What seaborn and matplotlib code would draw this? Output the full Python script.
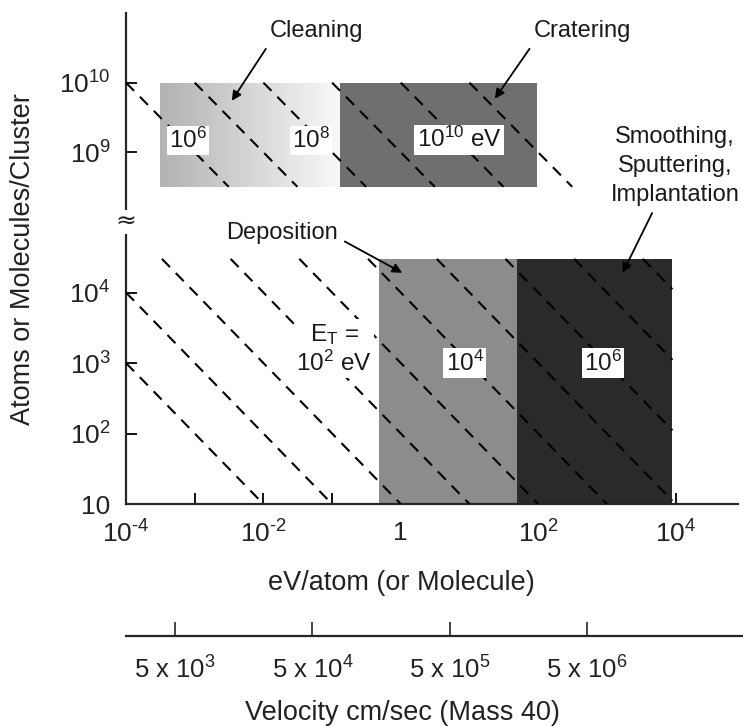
import numpy as np
import pandas as pd
import matplotlib
matplotlib.use("Agg")
import matplotlib.pyplot as plt
import seaborn as sns

# ---------------- data ----------------
# energy per atom (eV)
energy_limits = [1e-4, 8.1e4]
energy_ticks = [1e-4, 1e-3, 1e-2, 1e-1, 1, 1e1, 1e2, 1e3, 1e4]
energy_tick_labels = ["10$^{\\text{-}4}$", "", "10$^{\\text{-}2}$", "", "1", "",
                      "10$^{2}$", "", "10$^{4}$"]

# atoms per cluster, axis broken between 1e5 and 1e8
size_limits_low = [10, 1e5]
size_limits_high = [1e8, 1e11]
size_ticks_low = [10, 1e2, 1e3, 1e4]
size_tick_labels_low = ["10", "10$^{2}$", "10$^{3}$", "10$^{4}$"]
size_ticks_high = [1e9, 1e10]
size_tick_labels_high = ["10$^{9}$", "10$^{10}$"]

# velocity scale for mass 40 (cm/s)
mass_amu = 40
velocity_ticks = [5e3, 5e4, 5e5, 5e6]
velocity_tick_labels = ["5 x 10$^{3}$", "5 x 10$^{4}$", "5 x 10$^{5}$", "5 x 10$^{6}$"]

# total cluster energy E_T = N * E/atom (eV), iso-energy lines
total_energy_low = [1e-1, 1, 1e1, 1e2, 1e3, 1e4, 1e5, 1e6, 1e7, 1e8]
total_energy_high = [1e6, 1e7, 1e8, 1e9, 1e10, 1e11]

# process regions: energy/atom range and cluster size range
high_region_names = ["Cleaning", "Cratering"]
high_region_e_min = [3.1e-4, 0.13]
high_region_e_max = [0.13, 96]
high_region_n_min = [3.2e8, 3.2e8]
high_region_n_max = [1e10, 1e10]

low_region_names = ["Deposition", "Smoothing,\nSputtering,\nImplantation"]
low_region_e_min = [0.48, 49]
low_region_e_max = [49, 9.0e3]
low_region_n_min = [10, 10]
low_region_n_max = [3.0e4, 3.0e4]

# E_T values written on the chart
high_energy_marks = [1e6, 1e8, 1e10]
low_energy_marks = [1e2, 1e4, 1e6]

# ---------------- helpers ----------------
AMU = 1.66054e-27
EV = 1.602177e-19


def velocity_cm_s(e_ev):
    return np.sqrt(2.0 * np.asarray(e_ev) * EV / (mass_amu * AMU)) * 100.0


def iso_energy_frame(totals, e_lo, e_hi, n_lo, n_hi):
    rows = []
    for et in totals:
        top = min(n_hi, et / e_lo)
        bottom = max(n_lo, et / e_hi)
        if top <= bottom:
            continue
        for n in (top, bottom):
            rows.append({"E_T": et, "energy": et / n, "size": n})
    return pd.DataFrame(rows)


def exp_label(value, unit=""):
    return "10$^{%d}$%s" % (round(np.log10(value)), unit)


# ---------------- figure ----------------
sns.set_theme(style="ticks")
plt.rcParams["font.family"] = ["Liberation Sans", "DejaVu Sans"]
plt.rcParams["mathtext.fontset"] = "custom"
plt.rcParams["mathtext.rm"] = "Liberation Sans"
plt.rcParams["mathtext.it"] = "Liberation Sans:italic"
plt.rcParams["mathtext.bf"] = "Liberation Sans:bold"

W, H = 743, 726
fig = plt.figure(figsize=(W / 100, H / 100), dpi=100)
left, width = 126 / W, 612 / W
ax_lo = fig.add_axes([left, 1 - 504 / H, width, (504 - 222) / H])
ax_hi = fig.add_axes([left, 1 - 222 / H, width, (222 - 13) / H])

for ax in (ax_lo, ax_hi):
    ax.set_xscale("log")
    ax.set_yscale("log")
    ax.set_xlim(energy_limits)
    ax.set_facecolor("none")
    ax.grid(False)
    ax.xaxis.set_minor_locator(matplotlib.ticker.NullLocator())
    ax.yaxis.set_minor_locator(matplotlib.ticker.NullLocator())
    for s in ("top", "right"):
        ax.spines[s].set_visible(False)
    ax.spines["left"].set_linewidth(1.6)
    ax.spines["bottom"].set_linewidth(1.6)
    ax.tick_params(axis="both", which="major", direction="in", length=8,
                   width=1.3, color="black", labelsize=19, labelcolor="#222222")
    ax.tick_params(axis="x", pad=12)
    ax.tick_params(axis="y", pad=11)

ax_lo.set_ylim(size_limits_low)
ax_hi.set_ylim(size_limits_high)
ax_hi.spines["bottom"].set_visible(False)
ax_hi.tick_params(axis="x", bottom=False, labelbottom=False)

ax_lo.set_xticks(energy_ticks, energy_tick_labels)
ax_lo.set_yticks(size_ticks_low, size_tick_labels_low)
ax_hi.set_yticks(size_ticks_high, size_tick_labels_high)

# --- shaded process regions ---
high_shades = [None, "#6f6f6f"]
low_shades = ["#8c8c8c", "#2a2a2a"]

for name, e0, e1, n0, n1, shade in zip(high_region_names, high_region_e_min,
                                        high_region_e_max, high_region_n_min,
                                        high_region_n_max, high_shades):
    if shade is None:
        # cleaning band fades from grey to almost white
        edges = np.geomspace(e0, e1, 61)
        greys = np.linspace(0.70, 0.97, 60)
        for a, b, g in zip(edges[:-1], edges[1:], greys):
            ax_hi.fill_between([a, b * 1.01], n0, n1, color=(g, g, g),
                               linewidth=0, zorder=1)
    else:
        ax_hi.fill_between([e0, e1], n0, n1, color=shade, linewidth=0, zorder=1)

for name, e0, e1, n0, n1, shade in zip(low_region_names, low_region_e_min,
                                        low_region_e_max, low_region_n_min,
                                        low_region_n_max, low_shades):
    ax_lo.fill_between([e0, e1], n0, n1, color=shade, linewidth=0, zorder=1)

# --- iso-energy dashed lines ---
lines_low = iso_energy_frame(total_energy_low, energy_limits[0], max(low_region_e_max),
                             size_limits_low[0], max(low_region_n_max))
lines_high = iso_energy_frame(total_energy_high, energy_limits[0], energy_limits[1],
                              min(high_region_n_min), max(high_region_n_max))
for ax, frame in ((ax_lo, lines_low), (ax_hi, lines_high)):
    sns.lineplot(data=frame, x="energy", y="size", units="E_T", estimator=None,
                 sort=False, color="black", linewidth=1.5, linestyle=(0, (5.5, 4)),
                 legend=False, ax=ax, zorder=3)
    ax.set_xlabel("")
    ax.set_ylabel("")

# --- E_T labels ---
box = dict(facecolor="white", edgecolor="none", pad=1.5)
high_label_pos = [(10 ** -3.1, 10 ** 9.17), (10 ** -1.31, 10 ** 9.17), (10 ** 0.85, 10 ** 9.18)]
for val, (x, y), unit in zip(high_energy_marks, high_label_pos, ["", "", " eV"]):
    ax_hi.text(x, y, exp_label(val, unit), ha="center", va="center", fontsize=17.5,
               color="#1a1a1a", bbox=box, zorder=5)

low_label_pos = [(10 ** -0.97, 10 ** 3.2), (10 ** 0.93, 10 ** 3.0), (10 ** 2.94, 10 ** 3.0)]
low_label_text = ["E$_\\mathrm{T}$ =\n" + exp_label(low_energy_marks[0], " eV"),
                  exp_label(low_energy_marks[1]), exp_label(low_energy_marks[2])]
for txt, (x, y) in zip(low_label_text, low_label_pos):
    ax_lo.text(x, y, txt, ha="center", va="center", fontsize=17.5, color="#1a1a1a",
               bbox=box, zorder=5, linespacing=1.15)

# --- region annotations with arrows ---
arrow = dict(arrowstyle="-|>", color="black", lw=1.3, mutation_scale=14,
             shrinkA=3, shrinkB=0)
ax_hi.annotate(high_region_names[0], xy=(10 ** -2.46, 10 ** 9.74),
               xytext=(10 ** -1.22, 10 ** 10.74), ha="center", va="center",
               fontsize=17, color="#1a1a1a",
               arrowprops=dict(arrow, relpos=(0.0, 0.0)), zorder=6)
ax_hi.annotate(high_region_names[1], xy=(10 ** 1.37, 10 ** 9.77),
               xytext=(10 ** 2.65, 10 ** 10.74), ha="center", va="center",
               fontsize=17, color="#1a1a1a",
               arrowprops=dict(arrow, relpos=(0.0, 0.0)), zorder=6)
ax_hi.annotate(low_region_names[1], xy=(10 ** 3.23, 10 ** 4.28),
               xycoords=ax_lo.transData, xytext=(10 ** 3.99, 10 ** 8.8),
               textcoords="data", ha="center", va="center", fontsize=17,
               color="#1a1a1a", linespacing=1.4, annotation_clip=False,
               arrowprops=dict(arrow, relpos=(0.35, 0.0)), zorder=6)
ax_lo.annotate(low_region_names[0], xy=(10 ** 0.02, 10 ** 4.28),
               xytext=(10 ** -1.73, 10 ** 4.84), ha="center", va="center",
               fontsize=17, color="#1a1a1a", annotation_clip=False,
               arrowprops=dict(arrow, relpos=(1.0, 0.3)), zorder=6)

# axis break mark
fig.text(126 / W, 1 - 222 / H, "\u2248", ha="center", va="center", fontsize=18,
         color="#222222", family=["DejaVu Sans"],
         bbox=dict(facecolor="white", edgecolor="none", pad=0))

# --- velocity scale below ---
vel_width = (W - 126) / W
log_span = np.log10(energy_limits[1]) - np.log10(energy_limits[0])
e_right = 10 ** (np.log10(energy_limits[0]) + log_span * vel_width / width)
ax_v = fig.add_axes([left, 1 - 636 / H, vel_width, 0.01])
ax_v.set_facecolor("none")
ax_v.set_xscale("log")
ax_v.set_xlim(velocity_cm_s([energy_limits[0], e_right]))
ax_v.xaxis.set_minor_locator(matplotlib.ticker.NullLocator())
ax_v.set_yticks([])
for s in ("top", "right", "left"):
    ax_v.spines[s].set_visible(False)
ax_v.spines["bottom"].set_linewidth(1.6)
ax_v.set_xticks(velocity_ticks, velocity_tick_labels)
ax_v.tick_params(axis="x", direction="in", length=10, width=1.2, pad=15,
                 labelsize=18.5, labelcolor="#222222")

# --- axis titles ---
fig.text(23 / W, 1 - 259 / H, "Atoms or Molecules/Cluster", rotation=90,
         ha="center", va="center", fontsize=19.5, color="#222222")
fig.text(401 / W, 1 - 583 / H, "eV/atom (or Molecule)", ha="center", va="center",
         fontsize=19.5, color="#222222")
fig.text(402 / W, 1 - 713 / H, "Velocity cm/sec (Mass 40)", ha="center",
         va="center", fontsize=19.5, color="#222222")

fig.savefig("out.png", dpi=100, facecolor="white")
